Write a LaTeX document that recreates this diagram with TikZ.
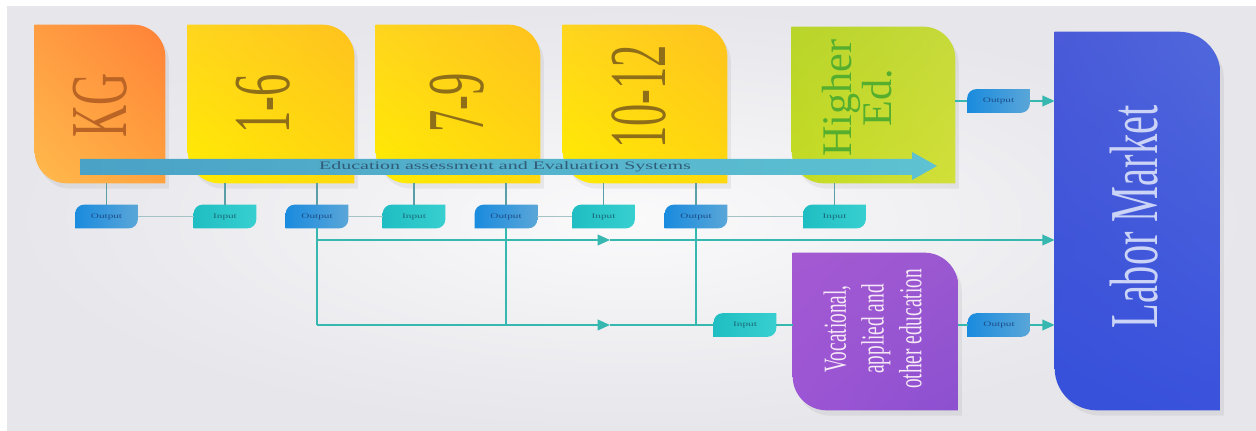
\documentclass[tikz,border=0pt]{standalone}
\usepackage{fontspec}
\setmainfont{Liberation Serif}
\usetikzlibrary{calc}
\usetikzlibrary{arrows.meta, backgrounds, shadows, shadings}

\definecolor{bgin}{HTML}{FAFAFB}
\definecolor{bgout}{HTML}{E6E6EB}
\definecolor{flowc}{HTML}{36B8B0}
\definecolor{stubc}{HTML}{5A9EA8}
\definecolor{linkc}{HTML}{A3C3C4}
\definecolor{kgtext}{HTML}{BA6526}
\definecolor{gradetext}{HTML}{8E6E18}
\definecolor{highertext}{HTML}{55AE2E}
\definecolor{labortext}{HTML}{CBD4F6}
\definecolor{voctext}{HTML}{F6E8F6}
\definecolor{evaltext}{HTML}{315C78}
\definecolor{outtext}{HTML}{1C4C88}
\definecolor{intext}{HTML}{1A6878}
\definecolor{arrowl}{HTML}{4AA2C6}
\definecolor{arrowr}{HTML}{5EC2D2}
\definecolor{kgul}{HTML}{FF9C42}
\definecolor{kgur}{HTML}{FF8238}
\definecolor{kgll}{HTML}{FFBA4C}
\definecolor{kglr}{HTML}{FFA23E}
\definecolor{grul}{HTML}{FFD51E}
\definecolor{grur}{HTML}{FFC21E}
\definecolor{grll}{HTML}{FFEC00}
\definecolor{grlr}{HTML}{FFD80E}
\definecolor{heul}{HTML}{B9D42A}
\definecolor{heur}{HTML}{C6DA3A}
\definecolor{hell}{HTML}{C4DC22}
\definecolor{helr}{HTML}{D2DF3A}
\definecolor{lmul}{HTML}{4A5AD8}
\definecolor{lmur}{HTML}{5068DC}
\definecolor{lmll}{HTML}{3650DA}
\definecolor{lmlr}{HTML}{3A52DC}
\definecolor{voul}{HTML}{A459D2}
\definecolor{vour}{HTML}{9A58D0}
\definecolor{voll}{HTML}{9C55D4}
\definecolor{volr}{HTML}{8C50D0}
\definecolor{outl}{HTML}{1A8BDE}
\definecolor{outr}{HTML}{5AA6D8}
\definecolor{inl}{HTML}{1FBEC2}
\definecolor{inr}{HTML}{38CFD0}

% box with rounded top right and bottom left corner
\newcommand{\tabpath}[2]{(#1.north west) -- ($(#1.north east)+(-#2,0)$) .. controls ($(#1.north east)+(-0.45*#2,0)$) and ($(#1.north east)+(0,0.45*#2)$) .. ($(#1.north east)+(0,#2)$) -- (#1.south east) -- ($(#1.south west)+(#2,0)$) .. controls ($(#1.south west)+(0.45*#2,0)$) and ($(#1.south west)+(0,-0.45*#2)$) .. ($(#1.south west)+(0,-#2)$) -- cycle}
% tag with rounded top left and bottom right corner
\newcommand{\tagpath}[2]{($(#1.north west)+(0,#2)$) .. controls ($(#1.north west)+(0,0.45*#2)$) and ($(#1.north west)+(0.45*#2,0)$) .. ($(#1.north west)+(#2,0)$) -- (#1.north east) -- ($(#1.south east)+(0,-#2)$) .. controls ($(#1.south east)+(0,-0.45*#2)$) and ($(#1.south east)+(-0.45*#2,0)$) .. ($(#1.south east)+(-#2,0)$) -- (#1.south west) -- cycle}

\begin{document}
\begin{tikzpicture}[
		x=0.02cm, y=-0.02cm,
		>={Triangle[length=7pt,width=6pt]},
		stage/.style={inner sep=0pt, minimum height=3.16cm},
		stagetext/.style={rotate=90, inner sep=0pt, font=\fontsize{46}{46}\selectfont, text=gradetext},
		tag/.style={minimum width=1.24cm, minimum height=0.46cm, inner sep=0pt, font=\fontsize{4}{4}\selectfont},
		outtag/.style={tag, text=outtext},
		intag/.style={tag, text=intext},
		boxshadow/.style={drop shadow={shadow xshift=2pt, shadow yshift=-3pt, opacity=0.12}},
		flow/.style={flowc, line width=1.1pt},
		stub/.style={stubc, line width=0.8pt},
		link/.style={linkc, line width=1.1pt},
	]
	\useasboundingbox (0,0) rectangle (1256,431);
	% stages
	\node[stage, minimum width=2.6cm] (kg) at (100,104) {};
	\node[stage, minimum width=3.32cm] (g16) at (271,104) {};
	\node[stage, minimum width=3.28cm] (g79) at (458,104) {};
	\node[stage, minimum width=3.28cm] (g1012) at (645,104) {};
	\node[stage, minimum width=3.26cm, minimum height=3.12cm] (higher) at (873.5,105) {};
	\node[stage, minimum width=3.3cm, minimum height=7.56cm] (labor) at (1137.5,221) {};
	\node[stage, minimum width=3.3cm, minimum height=3.14cm] (voc) at (875.5,331.5) {};
	\node[stagetext, text=kgtext] (kglabel) at (100,105) {\scalebox{0.55}[1]{KG}};
	\node[stagetext] (g16label) at (263,104) {\scalebox{0.55}[1]{1-6}};
	\node[stagetext] (g79label) at (457,103) {\scalebox{0.55}[1]{7-9}};
	\node[stagetext] (g1012label) at (639,97) {\scalebox{0.55}[1]{10-12}};
	\node[stagetext, text=highertext, font=\fontsize{24}{23}\selectfont, align=center] (higherlabel) at (857,98) {Higher\\Ed.};
	\node[stagetext, text=labortext, font=\fontsize{39}{39}\selectfont] (laborlabel) at (1134,217) {\scalebox{0.59}[1]{Labor Market}};
	\node[stagetext, text=voctext, font=\fontsize{18.3}{21.5}\selectfont] (voclabel) at (876,329) {\scalebox{0.6}[1]{\begin{tabular}{@{}c@{}}Vocational,\\applied and\\other education\end{tabular}}};
	% evaluation arrow
	\shade[left color=arrowl, right color=arrowr] (80,159) -- (912,159) -- (912,152) -- (937,166) -- (912,180) -- (912,175) -- (80,175) -- cycle;
	\node[font=\fontsize{6.5}{7}\selectfont, text=evaltext, inner sep=0pt] (eval) at (505,167) {\scalebox{1.75}[1]{Education assessment and Evaluation Systems}};
	% tags
	\node[outtag] (o1) at (106.5,216.5) {\scalebox{1.6}[1]{Output}};
	\node[intag] (i1) at (225,216.5) {\scalebox{1.6}[1]{Input}};
	\node[outtag] (o2) at (317,216.5) {\scalebox{1.6}[1]{Output}};
	\node[intag] (i2) at (414,216.5) {\scalebox{1.6}[1]{Input}};
	\node[outtag] (o3) at (506,216.5) {\scalebox{1.6}[1]{Output}};
	\node[intag] (i3) at (603.5,216.5) {\scalebox{1.6}[1]{Input}};
	\node[outtag] (o4) at (696,216.5) {\scalebox{1.6}[1]{Output}};
	\node[intag] (i4) at (834.5,216.5) {\scalebox{1.6}[1]{Input}};
	\node[intag] (vin) at (745,325) {\scalebox{1.6}[1]{Input}};
	\node[outtag] (vout) at (999,325) {\scalebox{1.6}[1]{Output}};
	\node[outtag] (hout) at (998.5,101) {\scalebox{1.6}[1]{Output}};
	% connectors
	\draw[stub] (o1) -- (o1 |- kg.south);
	\draw[stub] (i1) -- (i1 |- g16.south);
	\draw[stub] (o2) -- (o2 |- g16.south);
	\draw[stub] (i2) -- (i2 |- g79.south);
	\draw[stub] (o3) -- (o3 |- g79.south);
	\draw[stub] (i3) -- (i3 |- g1012.south);
	\draw[stub] (o4) -- (o4 |- g1012.south);
	\draw[stub] (i4) -- (i4 |- higher.south);
	\draw[link] (o1) -- (i1);
	\draw[link] (o2) -- (i2);
	\draw[link] (o3) -- (i3);
	\draw[link] (o4) -- (i4);
	\coordinate (ujoin) at (317,240);
	\coordinate (ljoin) at (317,325);
	\coordinate (umid) at (610,240);
	\coordinate (lmid) at (610,325);
	\draw[flow] (o2) -- (ljoin);
	\draw[flow, ->] (ujoin) -- (umid);
	\draw[flow, ->] (umid) -- (labor.west |- umid);
	\draw[flow, ->] (ljoin) -- (lmid);
	\draw[flow] (lmid) -- (vin);
	\draw[flow] (o3) -- (o3 |- ljoin);
	\draw[flow] (o4) -- (o4 |- ljoin);
	\draw[flow] (vin) -- (vin -| voc.west);
	\draw[flow] (voc.east |- vout) -- (vout);
	\draw[flow, ->] (vout) -- (vout -| labor.west);
	\draw[flow] (higher.east |- hout) -- (hout);
	\draw[flow, ->] (hout) -- (hout -| labor.west);
	\begin{scope}[on background layer]
		\fill[white] (0,0) rectangle (1256,431);
		\shade[inner color=bgin, outer color=bgout] (7,7) rectangle (1256,431);
		\shade[boxshadow, upper left=kgul, upper right=kgur, lower left=kgll, lower right=kglr] \tabpath{kg}{32};
		\shade[boxshadow, upper left=grul, upper right=grur, lower left=grll, lower right=grlr] \tabpath{g16}{32};
		\shade[boxshadow, upper left=grul, upper right=grur, lower left=grll, lower right=grlr] \tabpath{g79}{32};
		\shade[boxshadow, upper left=grul, upper right=grur, lower left=grll, lower right=grlr] \tabpath{g1012}{32};
		\shade[boxshadow, upper left=heul, upper right=heur, lower left=hell, lower right=helr] \tabpath{higher}{32};
		\shade[boxshadow, upper left=lmul, upper right=lmur, lower left=lmll, lower right=lmlr] \tabpath{labor}{42};
		\shade[boxshadow, upper left=voul, upper right=vour, lower left=voll, lower right=volr] \tabpath{voc}{34};
		\foreach \t in {o1,o2,o3,o4,vout,hout}
			\shade[left color=outl, right color=outr] \tagpath{\t}{9};
		\foreach \t in {i1,i2,i3,i4,vin}
			\shade[left color=inl, right color=inr] \tagpath{\t}{9};
	\end{scope}
\end{tikzpicture}
\end{document}
